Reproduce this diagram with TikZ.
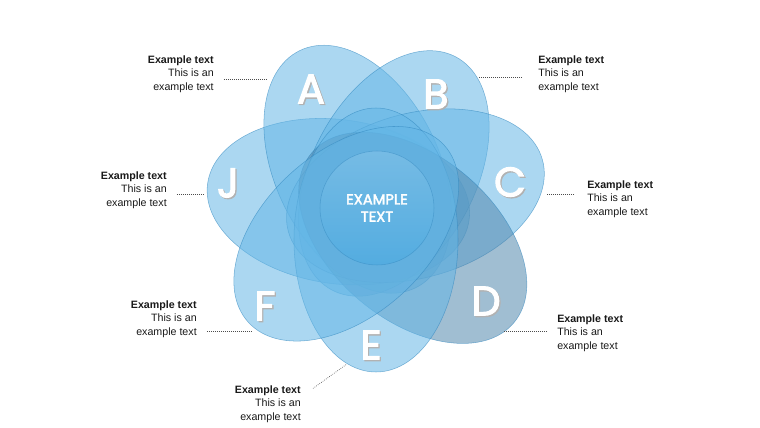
\documentclass[tikz,border=0pt]{standalone}
\usepackage{fontspec}
\setmainfont{Liberation Sans}
\newfontfamily\lobefont{Poppins}[FakeBold=2.6]
\usetikzlibrary{positioning, calc}
\definecolor{petalblue}{RGB}{100,182,230}
\definecolor{petalgrey}{RGB}{80,134,172}
\definecolor{petaledge}{RGB}{50,135,190}
\definecolor{hubblue}{RGB}{50,165,228}
\definecolor{notegrey}{RGB}{25,25,25}
\tikzset{petal/.style={fill=#1,fill opacity=0.54,draw=petaledge,draw opacity=0.6,line width=0.4pt},
    lobe/.style={text=white,font=\lobefont\fontsize{31}{31}\selectfont,inner sep=0pt},
    lobe shadow/.style={lobe,text=black!30},
    hub/.style={circle,minimum size=85.5pt,top color=hubblue!45,bottom color=hubblue,
        fill opacity=0.3,draw=petaledge,draw opacity=0.5,text=white,text opacity=1,
        align=center,font=\lobefont\fontsize{11}{13}\selectfont},
    note/.style={font=\fontsize{8}{10}\selectfont,text=notegrey,inner sep=0pt},
    leader/.style={draw=black!70,densely dotted,line width=0.5pt}}

\begin{document}
\begin{tikzpicture}[x=0.75pt,y=0.75pt]
  \useasboundingbox (-376,-221) rectangle (384,207);

  % the seven petals
  \foreach \ang/\off/\col in {172/38/petalblue, 116/42/petalblue, 62/38/petalblue,
                              16/41/petalblue, -40/48/petalgrey, -90/33/petalblue,
                              -138/40/petalblue}
    \filldraw[petal=\col, rotate=\ang] (\off,0) ellipse[x radius=132, y radius=82];

  % centre
  \node[hub] (hub) at (1,-1) {EXAMPLE\\TEXT};

  % petal letters
  \foreach \pos/\name in {{(-148,24)/J}, {(-65,118)/A}, {(60,113)/B}, {(134,25)/C},
                          {(110,-94)/D}, {(-5,-138)/E}, {(-111,-99)/F}}
  {
    \node[lobe shadow, xshift=1pt, yshift=-1pt] at \pos {\name};
    \node[lobe] (\name) at \pos {\name};
  }

  % notes
  \node[note, anchor=east, align=right] (tA) at (-162,133) {\textbf{Example text}\\This is an\\example text};
  \node[note, anchor=west, align=left] (tB) at (162,133) {\textbf{Example text}\\This is an\\example text};
  \node[note, anchor=east, align=right] (tJ) at (-209,17) {\textbf{Example text}\\This is an\\example text};
  \node[note, anchor=west, align=left] (tC) at (211,8) {\textbf{Example text}\\This is an\\example text};
  \node[note, anchor=east, align=right] (tF) at (-179,-112) {\textbf{Example text}\\This is an\\example text};
  \node[note, anchor=west, align=left] (tD) at (181,-126) {\textbf{Example text}\\This is an\\example text};
  \node[note, anchor=east, align=right] (tE) at (-75,-197) {\textbf{Example text}\\This is an\\example text};

  % leaders
  \coordinate (lA) at (-108,128);
  \coordinate (lB) at (102,130);
  \coordinate (lJ) at (-171,13);
  \coordinate (lC) at (171,13);
  \coordinate (lF) at (-124,-124);
  \coordinate (lD) at (127,-124);
  \coordinate (lE) at (-29,-157);
  \draw[leader] (tA.east |- lA) ++(10,0) -- (lA);
  \draw[leader] (tB.west |- lB) ++(-16,0) -- (lB);
  \draw[leader] (tJ.east |- lJ) ++(10,0) -- (lJ);
  \draw[leader] (tC.west |- lC) ++(-13,0) -- (lC);
  \draw[leader] (tF.east |- lF) ++(10,0) -- (lF);
  \draw[leader] (tD.west |- lD) ++(-10,0) -- (lD);
  \draw[leader] (tE.north east) ++(12,-3) -- (lE);

\end{tikzpicture}
\end{document}
